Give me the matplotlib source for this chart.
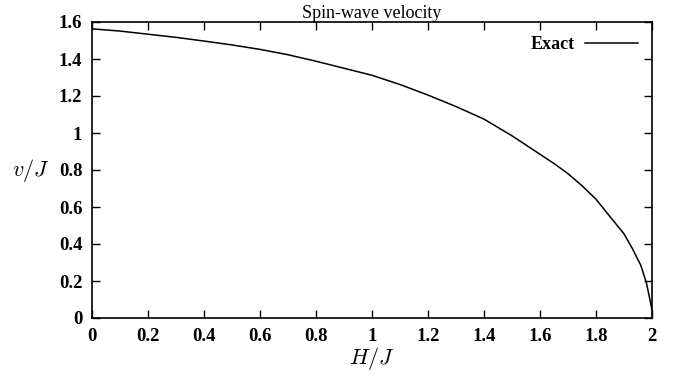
import numpy as np
import matplotlib
matplotlib.use("Agg")
import matplotlib.pyplot as plt

plt.rcParams['mathtext.fontset'] = 'cm'
plt.rcParams['font.family'] = ['DejaVu Serif']

# values
h = [0.0, 0.1, 0.2, 0.3, 0.4, 0.5, 0.6, 0.7, 0.8, 0.9, 1.0, 1.1, 1.2, 1.3,
     1.4, 1.5, 1.6, 1.65, 1.7, 1.75, 1.8, 1.85, 1.9, 1.93, 1.96, 1.98,
     1.993, 2.0]
v = [1.563, 1.551, 1.534, 1.517, 1.497, 1.476, 1.452, 1.423, 1.388, 1.35,
     1.312, 1.262, 1.205, 1.143, 1.075, 0.985, 0.885, 0.835, 0.78, 0.715,
     0.642, 0.548, 0.455, 0.375, 0.285, 0.19, 0.097, 0.043]

xticks = [0, 0.2, 0.4, 0.6, 0.8, 1, 1.2, 1.4, 1.6, 1.8, 2]
yticks = [0, 0.2, 0.4, 0.6, 0.8, 1, 1.2, 1.4, 1.6]

fig = plt.figure(figsize=(6.73, 3.77), dpi=100)
ax = fig.add_axes([92/673, 59/377, 560/673, 296/377])

ax.plot(h, v, color='black', lw=1.1, label='Exact')

ax.set_xlim(0, 2)
ax.set_ylim(0, 1.6)
ax.set_xticks(xticks)
ax.set_yticks(yticks)
tickfont = {'family': 'Liberation Serif', 'weight': 'bold', 'size': 13.5}
ax.set_xticklabels(['%g' % t for t in xticks], fontdict=tickfont)
ax.set_yticklabels(['%g' % t for t in yticks], fontdict=tickfont)
ax.tick_params(direction='in', length=6, width=1, top=True, right=True, pad=7)
for s in ax.spines.values():
    s.set_linewidth(1.2)

ax.set_title('Spin-wave velocity', fontsize=13, family='Liberation Serif', pad=3)
ax.set_xlabel(r'$H/J$', fontsize=16, labelpad=0)
ax.set_ylabel(r'$v/J$', fontsize=16, rotation=0, va='center', ha='center')
ax.yaxis.set_label_coords(-0.109, 0.5)

leg = ax.legend(loc='upper right', frameon=False, markerfirst=False,
                prop={'family': 'Liberation Serif', 'weight': 'bold', 'size': 13},
                handlelength=2.9, borderaxespad=0.4, handletextpad=0.6)

fig.savefig('out.png', dpi=100)
